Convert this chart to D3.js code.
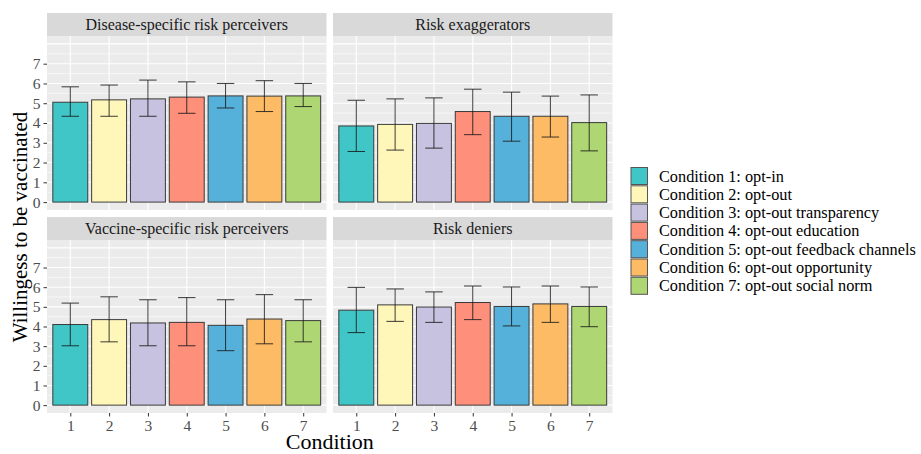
<!DOCTYPE html>
<html>
<head>
<meta charset="utf-8">
<script src="https://cdn.jsdelivr.net/npm/d3@7"></script>
<style>
	body{ margin:0; background:#fff; }
	svg{ display:block; }
</style>
</head>
<body>
<svg id="chart" width="921" height="454"></svg>
<script>
(function(){
	'use strict';

	var conditions = [1, 2, 3, 4, 5, 6, 7];
	var conditionLabels = [
		"Condition 1: opt-in",
		"Condition 2: opt-out",
		"Condition 3: opt-out transparency",
		"Condition 4: opt-out education",
		"Condition 5: opt-out feedback channels",
		"Condition 6: opt-out opportunity",
		"Condition 7: opt-out social norm"
	];
	var colors = ["#40C6C7", "#FFF6BA", "#C7C2DF", "#FD8F7B", "#55B1DA", "#FDBB66", "#AED673"];
	var panels = ["Disease-specific risk perceivers", "Risk exaggerators", "Vaccine-specific risk perceivers", "Risk deniers"];
	var yTicks = [0, 1, 2, 3, 4, 5, 6, 7];

	// means per panel (same order as panels)
	var means = [
		[5.05, 5.17, 5.22, 5.31, 5.37, 5.36, 5.37],
		[3.85, 3.93, 3.98, 4.58, 4.34, 4.34, 4.02],
		[4.10, 4.35, 4.18, 4.21, 4.06, 4.38, 4.30],
		[4.83, 5.10, 4.99, 5.22, 5.02, 5.15, 5.02]
	];
	var lower = [
		[4.34, 4.34, 4.34, 4.49, 4.76, 4.58, 4.83],
		[2.56, 2.63, 2.73, 3.41, 3.08, 3.29, 2.59],
		[3.02, 3.22, 3.02, 3.02, 2.77, 3.12, 3.22],
		[3.69, 4.26, 4.21, 4.35, 4.03, 4.21, 3.99]
	];
	var upper = [
		[5.83, 5.92, 6.17, 6.08, 6.00, 6.14, 6.00],
		[5.15, 5.22, 5.27, 5.71, 5.56, 5.36, 5.42],
		[5.19, 5.51, 5.36, 5.47, 5.36, 5.62, 5.36],
		[5.99, 5.91, 5.76, 6.06, 6.01, 6.06, 6.01]
	];

	var serif = "Liberation Serif, Times New Roman, serif";
	var svg = d3.select("#chart").attr("font-family", serif);

	// panel boxes: [left, right] x [strip top, panel top, panel bottom]
	var cols = [[47, 326.5], [333, 612.5]];
	var rows = [[13, 36, 210], [217, 240, 413]];

	var gridColor = "#ffffff";
	var textGray = "#4D4D4D";

	panels.forEach(function(name, p){
		var c = cols[p % 2], r = rows[Math.floor(p / 2)];
		var x = d3.scaleLinear().domain([0.4, 7.6]).range(c);
		var y = d3.scaleLinear().domain([-0.4, 8.4]).range([r[2], r[1]]);
		var g = svg.append("g");

		// strip
		g.append("rect")
			.attr("x", c[0]).attr("y", r[0])
			.attr("width", c[1] - c[0]).attr("height", r[1] - r[0])
			.attr("fill", "#D9D9D9");
		g.append("text")
			.attr("x", (c[0] + c[1]) / 2).attr("y", (r[0] + r[1]) / 2 + 5.5)
			.attr("text-anchor", "middle")
			.attr("font-family", serif)
			.attr("font-size", 16)
			.attr("fill", "#1A1A1A")
			.text(name);

		// panel background
		g.append("rect")
			.attr("x", c[0]).attr("y", r[1])
			.attr("width", c[1] - c[0]).attr("height", r[2] - r[1])
			.attr("fill", "#EBEBEB");

		// minor grid
		g.append("g").selectAll("line")
			.data(d3.range(0.5, 8.5, 1))
		.enter().append("line")
			.attr("x1", c[0]).attr("x2", c[1])
			.attr("y1", function(d){ return y(d); })
			.attr("y2", function(d){ return y(d); })
			.attr("stroke", gridColor).attr("stroke-width", 0.6);

		// major grid
		g.append("g").selectAll("line")
			.data(d3.range(0, 9))
		.enter().append("line")
			.attr("x1", c[0]).attr("x2", c[1])
			.attr("y1", function(d){ return y(d); })
			.attr("y2", function(d){ return y(d); })
			.attr("stroke", gridColor).attr("stroke-width", 1.1);
		g.append("g").selectAll("line")
			.data(conditions)
		.enter().append("line")
			.attr("y1", r[1]).attr("y2", r[2])
			.attr("x1", function(d){ return x(d); })
			.attr("x2", function(d){ return x(d); })
			.attr("stroke", gridColor).attr("stroke-width", 1.1);

		// bars
		var bw = x(1.45) - x(1);
		g.append("g").selectAll("rect")
			.data(conditions)
		.enter().append("rect")
			.attr("x", function(d){ return x(d) - bw; })
			.attr("width", bw * 2)
			.attr("y", function(d, i){ return y(means[p][i]); })
			.attr("height", function(d, i){ return y(0) - y(means[p][i]); })
			.attr("fill", function(d, i){ return colors[i]; })
			.attr("stroke", "#3a3a3a")
			.attr("stroke-width", 1);

		// error bars
		var cw = x(1.225) - x(1);
		var eb = g.append("g").selectAll("g")
			.data(conditions)
		.enter().append("g")
			.attr("stroke", "#1a1a1a")
			.attr("stroke-opacity", 0.85)
			.attr("stroke-width", 1);
		eb.append("line")
			.attr("x1", function(d){ return x(d); })
			.attr("x2", function(d){ return x(d); })
			.attr("y1", function(d, i){ return y(lower[p][i]); })
			.attr("y2", function(d, i){ return y(upper[p][i]); });
		eb.append("line")
			.attr("x1", function(d){ return x(d) - cw; })
			.attr("x2", function(d){ return x(d) + cw; })
			.attr("y1", function(d, i){ return y(lower[p][i]); })
			.attr("y2", function(d, i){ return y(lower[p][i]); });
		eb.append("line")
			.attr("x1", function(d){ return x(d) - cw; })
			.attr("x2", function(d){ return x(d) + cw; })
			.attr("y1", function(d, i){ return y(upper[p][i]); })
			.attr("y2", function(d, i){ return y(upper[p][i]); });

		// y axis on left column
		if(p % 2 === 0){
			var yAxis = d3.axisLeft(y).tickValues(yTicks).tickSize(3.5).tickPadding(3).tickFormat(d3.format("d"));
			var ya = g.append("g")
				.attr("transform", "translate(" + c[0] + ",0)")
				.call(yAxis)
				.attr("font-family", serif);
			ya.select(".domain").remove();
			ya.selectAll("line").attr("stroke", "#333333");
			ya.selectAll("text")
				.attr("font-size", 15.5)
				.attr("fill", textGray);
		}

		// x axis on bottom row
		if(p >= 2){
			var xAxis = d3.axisBottom(x).tickValues(conditions).tickSize(3.5).tickPadding(3).tickFormat(d3.format("d"));
			var xa = g.append("g")
				.attr("transform", "translate(0," + r[2] + ")")
				.call(xAxis)
				.attr("font-family", serif);
			xa.select(".domain").remove();
			xa.selectAll("line").attr("stroke", "#333333");
			xa.selectAll("text")
				.attr("font-size", 15.5)
				.attr("fill", textGray);
		}
	});

	// axis titles
	svg.append("text")
		.attr("x", (cols[0][0] + cols[1][1]) / 2)
		.attr("y", 449)
		.attr("text-anchor", "middle")
		.attr("font-family", serif)
		.attr("font-size", 22)
		.attr("fill", "#000")
		.text("Condition");
	svg.append("text")
		.attr("transform", "translate(27,227) rotate(-90)")
		.attr("text-anchor", "middle")
		.attr("font-family", serif)
		.attr("font-size", 21)
		.attr("fill", "#000")
		.text("Willingess to be vaccinated");

	// legend
	var legend = svg.append("g").attr("transform", "translate(630.5,167)");
	var item = legend.selectAll("g")
		.data(conditionLabels)
	.enter().append("g")
		.attr("transform", function(d, i){ return "translate(0," + i * 18.3 + ")"; });
	item.append("rect")
		.attr("x", 0.5).attr("y", 0.5)
		.attr("width", 16.5).attr("height", 17)
		.attr("fill", function(d, i){ return colors[i]; })
		.attr("stroke", "#555555")
		.attr("stroke-width", 1);
	item.append("text")
		.attr("x", 28.5).attr("y", 14.5)
		.attr("font-family", serif)
		.attr("font-size", 16.3)
		.attr("fill", "#000")
		.text(function(d){ return d; });
}());
</script>
</body>
</html>
